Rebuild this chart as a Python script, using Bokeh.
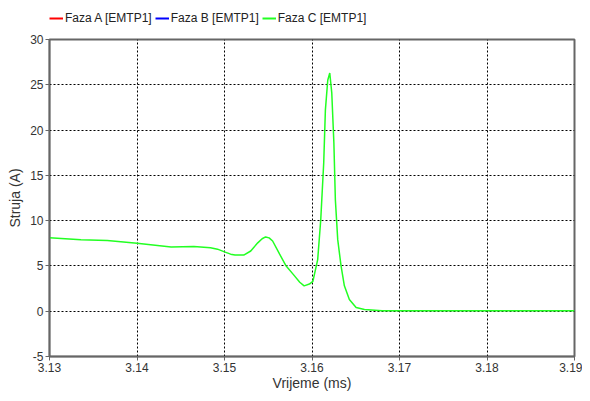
from bokeh.plotting import figure
from bokeh.layouts import column
from bokeh.models import Legend, LegendItem, FixedTicker, Range1d
from bokeh.embed import file_html
from bokeh.resources import INLINE

# Data (time in ms, current in A)
t_c = [3.1300, 3.1336, 3.1366, 3.1400, 3.1439, 3.1465, 3.1484, 3.1492, 3.1500,
       3.1507, 3.1512, 3.1522, 3.1530, 3.1538, 3.1543, 3.1547, 3.1551, 3.1555,
       3.1563, 3.1570, 3.1580, 3.1586, 3.1591, 3.1597, 3.1601, 3.16065, 3.1610,
       3.16134, 3.16153, 3.1618, 3.16203, 3.16226, 3.1625, 3.16267, 3.16294,
       3.16332, 3.1637, 3.16427, 3.16504, 3.1660, 3.1680, 3.1750, 3.1900]
i_c = [8.1, 7.9, 7.8, 7.5, 7.1, 7.15, 7.0, 6.85, 6.55,
       6.3, 6.2, 6.2, 6.65, 7.55, 8.0, 8.2, 8.1, 7.75,
       6.3, 5.05, 3.9, 3.2, 2.8, 3.0, 3.3, 5.7, 10.1,
       16.4, 22.2, 25.5, 26.3, 24.1, 18.6, 12.3, 7.9,
       5.0, 2.8, 1.3, 0.4, 0.2, 0.05, 0.05, 0.05]
# Phases A and B are not visible in the plotted window
t_ab = [3.13, 3.19]
i_a = [float("nan"), float("nan")]
i_b = [float("nan"), float("nan")]

series_names = ["Faza A [EMTP1]", "Faza B [EMTP1]", "Faza C [EMTP1]"]
series_colors = ["#ff0000", "#0000ff", "#22ff22"]

x_ticks = [3.13, 3.14, 3.15, 3.16, 3.17, 3.18, 3.19]
y_ticks = [-5, 0, 5, 10, 15, 20, 25, 30]

FONT = "Liberation Sans"

# Legend strip above the chart
lg = figure(width=582, height=31, output_backend="svg", toolbar_location=None,
            x_range=Range1d(0, 1), y_range=Range1d(0, 1),
            x_axis_type=None, y_axis_type=None, min_border=0)
lg.grid.visible = False
lg.outline_line_color = None
lg.border_fill_color = "white"
la = lg.line(t_ab, i_a, color=series_colors[0], line_width=2)
lb = lg.line(t_ab, i_b, color=series_colors[1], line_width=2)
lc = lg.line(t_ab, i_a, color=series_colors[2], line_width=2)
legend = Legend(items=[LegendItem(label=series_names[0], renderers=[la]),
                       LegendItem(label=series_names[1], renderers=[lb]),
                       LegendItem(label=series_names[2], renderers=[lc])],
                orientation="horizontal", location=(0, 6),
                glyph_width=14, glyph_height=10, label_standoff=2, spacing=3,
                padding=0, margin=0, border_line_color=None,
                background_fill_alpha=0,
                label_text_font=FONT, label_text_font_size="12px",
                label_text_color="#222222", label_height=12)
lg.add_layout(legend, "center")

p = figure(width=582, height=362, output_backend="svg", toolbar_location=None,
           x_range=Range1d(3.13, 3.19), y_range=Range1d(-5, 30),
           min_border_left=49, min_border_right=8, min_border_top=8,
           min_border_bottom=36)

p.background_fill_color = "white"
p.border_fill_color = "white"
p.outline_line_color = "#666666"
p.outline_line_width = 2

rc = p.line(t_c, i_c, color=series_colors[2], line_width=1.5)

for ax in (p.xaxis[0], p.yaxis[0]):
    ax.axis_line_color = "#666666"
    ax.axis_line_width = 1.5
    ax.major_tick_line_color = "#666666"
    ax.major_tick_in = 0
    ax.major_tick_out = 4
    ax.minor_tick_line_color = None
    ax.major_label_text_font = FONT
    ax.major_label_text_font_size = "12px"
    ax.major_label_text_color = "#333333"
    ax.axis_label_text_font = FONT
    ax.axis_label_text_font_size = "14px"
    ax.axis_label_text_font_style = "normal"
    ax.axis_label_text_color = "#333333"

p.xaxis.ticker = FixedTicker(ticks=x_ticks)
p.yaxis.ticker = FixedTicker(ticks=y_ticks)
p.xaxis.major_label_overrides = {v: f"{v:.2f}" for v in x_ticks}
p.yaxis.major_label_overrides = {v: str(v) for v in y_ticks}
p.xaxis.axis_label = "Vrijeme (ms)"
p.yaxis.axis_label = "Struja (A)"
p.xaxis.major_label_standoff = 2
p.yaxis.major_label_standoff = 2
p.xaxis.axis_label_standoff = 0
p.yaxis.axis_label_standoff = 4

for g in (p.xgrid[0], p.ygrid[0]):
    g.grid_line_color = "black"
    g.grid_line_dash = "2 2"
    g.grid_line_width = 1

layout = column(lg, p, spacing=0)
open("out.html", "w").write(file_html(layout, INLINE))
